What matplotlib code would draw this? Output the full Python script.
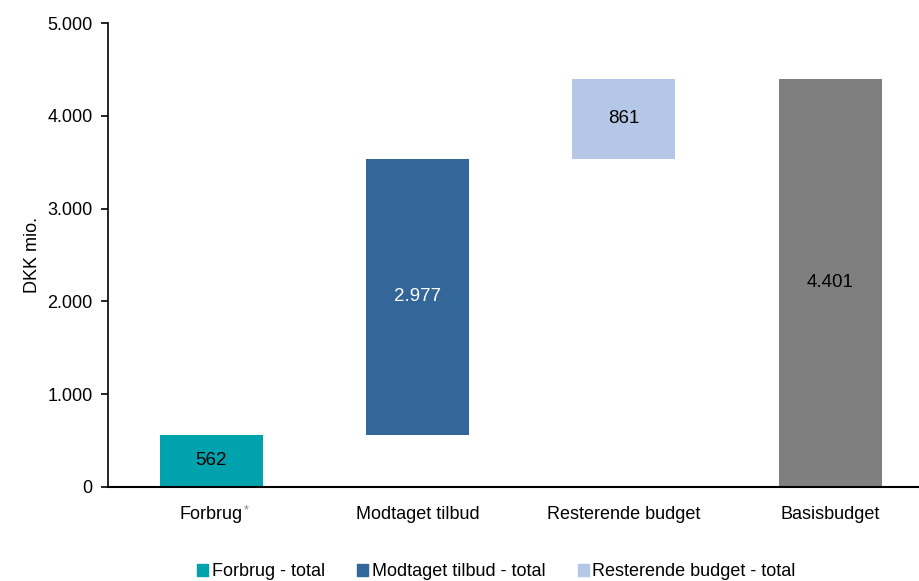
import matplotlib.pyplot as plt
from matplotlib.patches import Patch

plt.rcParams['font.family'] = ['Liberation Sans', 'DejaVu Sans']

categories = ['Forbrug', 'Modtaget tilbud', 'Resterende budget', 'Basisbudget']
values = [562, 2977, 861, 4401]
value_labels = ['562', '2.977', '861', '4.401']
colors = ['#00A3AD', '#336699', '#B4C7E7', '#7F7F7F']
label_colors = ['black', 'white', 'black', 'black']
legend_labels = ['Forbrug - total', 'Modtaget tilbud - total', 'Resterende budget - total']
yticks = [0, 1000, 2000, 3000, 4000, 5000]
ytick_labels = ['0', '1.000', '2.000', '3.000', '4.000', '5.000']

# waterfall bottoms: first three stacked, last is total
bottoms = [0, values[0], values[0] + values[1], 0]

fig = plt.figure(figsize=(9.19, 5.81), dpi=100)
ax = fig.add_axes([0.1175, 0.1618, 0.8825, 0.7986])

x = range(len(categories))
ax.bar(x, values, bottom=bottoms, width=0.5, color=colors)
for i in x:
    ax.text(i, bottoms[i] + values[i] / 2, value_labels[i], ha='center', va='center',
            fontsize=13.5, color=label_colors[i])

ax.set_xlim(-0.5, 3.43)
ax.set_ylim(0, 5000)
ax.set_yticks(yticks)
ax.set_yticklabels(ytick_labels, fontsize=13)
ax.set_xticks(list(x))
ax.set_xticklabels(categories, fontsize=13)
ax.tick_params(axis='x', length=0, pad=14)
ax.tick_params(axis='y', length=5, width=1.2, direction='out', pad=6)
ax.set_ylabel('DKK mio.', fontsize=13, labelpad=5)
for s in ['top', 'right']:
    ax.spines[s].set_visible(False)
ax.spines['left'].set_linewidth(1.2)
ax.spines['bottom'].set_linewidth(1.5)

# asterisk after "Forbrug"
fig.canvas.draw()
bb = ax.get_xticklabels()[0].get_window_extent()
fig.text((bb.x1 + 1) / fig.bbox.width, (bb.y1 + 2) / fig.bbox.height, '*', fontsize=9,
         color='#808080', ha='left', va='top')

handles = [Patch(color=c) for c in colors[:3]]
fig.legend(handles, legend_labels, loc='lower left', bbox_to_anchor=(0.197, -0.027), ncol=3,
           frameon=False, fontsize=13, handlelength=0.6, handleheight=0.6, handletextpad=0.2,
           columnspacing=1.8)

fig.savefig('out.png', dpi=100)
